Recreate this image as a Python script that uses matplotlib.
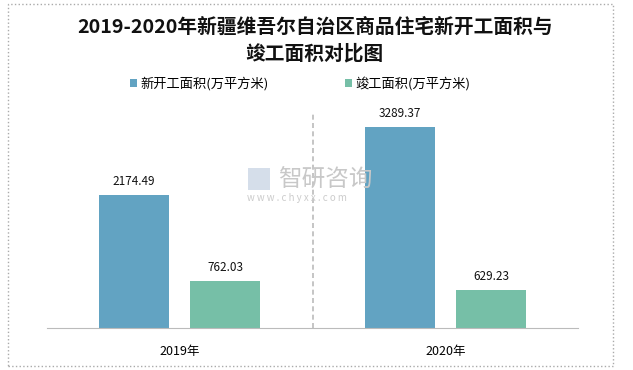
import numpy as np
import matplotlib.pyplot as plt
from matplotlib.patches import Rectangle

plt.rcParams['font.family'] = ['Noto Sans CJK SC', 'DejaVu Sans']

years = ['2019年', '2020年']
new_start = [2174.49, 3289.37]
completed = [762.03, 629.23]
series_names = ['新开工面积(万平方米)', '竣工面积(万平方米)']
colors = ['#62A3C2', '#76BFA7']

W, H = 633, 370
fig = plt.figure(figsize=(W / 100, H / 100), dpi=100)

# axes placed in pixel terms
left, right, bottom, top = 47, 578, 328, 114
ax = fig.add_axes([left / W, 1 - bottom / H, (right - left) / W, (bottom - top) / H])

x = np.arange(len(years))
bw = 0.264
off = 0.172
b1 = ax.bar(x - off, new_start, bw, color=colors[0], label=series_names[0])
b2 = ax.bar(x + off, completed, bw, color=colors[1], label=series_names[1])

for bars in (b1, b2):
    for r in bars:
        ax.annotate(f'{r.get_height():.2f}', (r.get_x() + r.get_width() / 2, r.get_height()),
                    xytext=(0, 5), textcoords='offset points', ha='center', va='bottom',
                    fontsize=8.5, color='#111111')

ax.set_xlim(-0.5, 1.5)
ax.set_ylim(0, 3500)
ax.axvline(0.5, color='#BBBBBB', linestyle=(0, (3, 2)), linewidth=1.2)
for s in ['left', 'right', 'top']:
    ax.spines[s].set_visible(False)
ax.spines['bottom'].set_color('#BBBBBB')
ax.set_yticks([])
ax.set_xticks(x)
ax.set_xticklabels(years, fontsize=9)
ax.tick_params(axis='x', length=0, pad=12)

fig.text(0.497, 1 - 18 / H, '2019-2020年新疆维吾尔自治区商品住宅新开工面积与\n竣工面积对比图',
         ha='center', va='top', fontsize=14.2, fontweight='bold', linespacing=1.42, color='#111111')

leg = fig.legend(handles=[b1, b2], loc='center', bbox_to_anchor=(0.474, 1 - 84 / H),
                 ncol=2, frameon=False, fontsize=9.5, handlelength=0.55, handleheight=0.55,
                 handletextpad=0.25, columnspacing=5.8)

# watermark
fig.text(278 / W, 1 - 180 / H, '智研咨询', fontsize=17, color='#C8C8C8', ha='left', va='center')
fig.text(247 / W, 1 - 198 / H, 'w w w . c h y x x . c o m', fontsize=7, color='#CCCCCC',
         ha='left', va='center')
fig.patches.append(Rectangle((248 / W, 1 - 190 / H), 22 / W, 22 / H, transform=fig.transFigure,
                             facecolor='#D5DEEA', edgecolor='none'))

# outer dotted frame
fig.patches.append(Rectangle((8 / W, 4 / H), 605 / W, 362 / H, transform=fig.transFigure,
                             fill=False, edgecolor='#AAAAAA', linestyle=':', linewidth=1))

fig.savefig('out.png', dpi=100)
